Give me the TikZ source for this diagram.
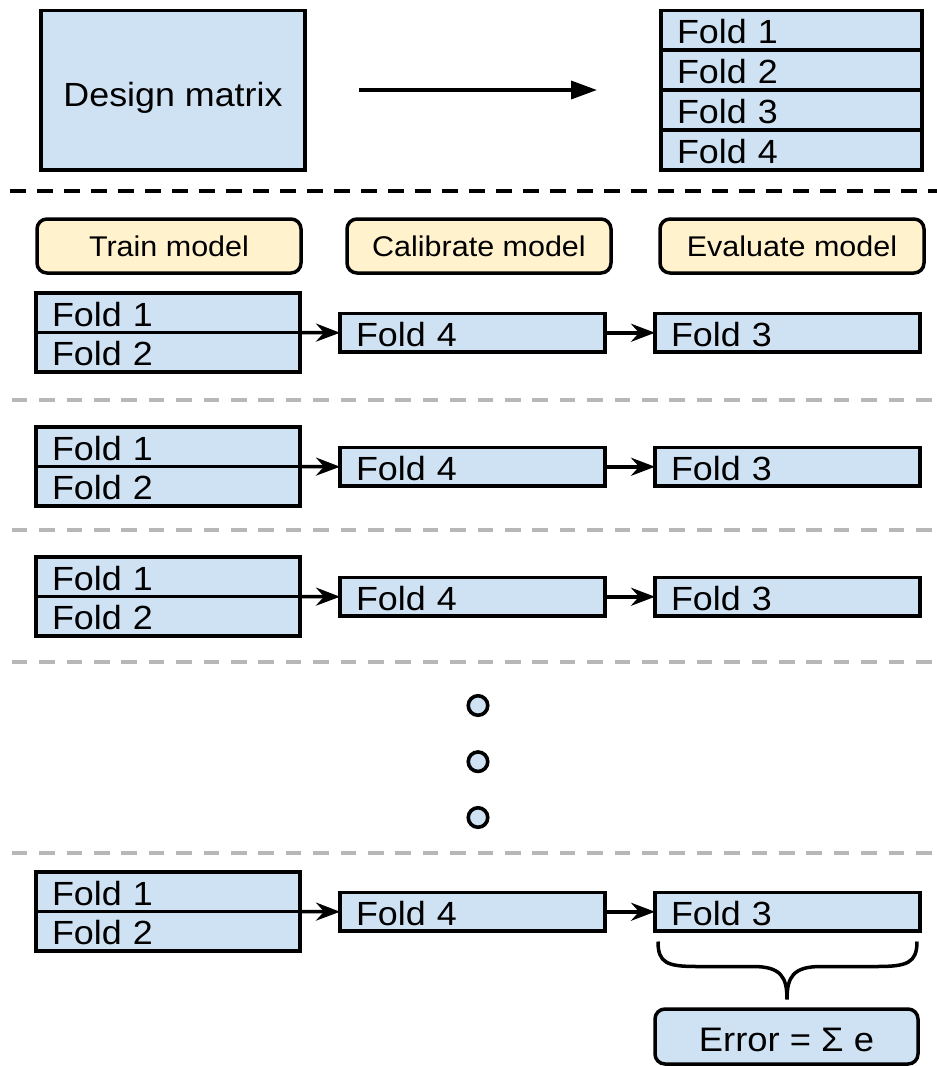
\documentclass[tikz,border=0pt]{standalone}
\usepackage{fontspec}
\setmainfont{Liberation Sans}[FakeStretch=1.07]
\usetikzlibrary{arrows.meta,calc}
\definecolor{boxblue}{HTML}{CFE2F3}
\definecolor{boxyellow}{HTML}{FFF2CC}
\definecolor{dashgray}{HTML}{B7B7B7}
\begin{document}
\begin{tikzpicture}[x=1pt,y=-1pt,
  every node/.style={outer sep=0pt},
  fold/.style={draw, fill=boxblue, line width=3.5pt, anchor=north west,
    minimum height=39.5pt, text width=#1, inner xsep=16pt, inner ysep=0pt,
    align=left, font=\fontsize{33.5}{39}\selectfont, text height=26.5pt, text depth=0pt},
  hdr/.style={draw, fill=boxyellow, rounded corners=10pt, line width=3.5pt,
    anchor=north west, minimum width=264pt, minimum height=54pt, inner sep=0pt,
    font=\fontsize{28.5}{34}\selectfont, text height=20.5pt, text depth=0pt},
  dmbox/.style={draw, fill=boxblue, line width=3.5pt, anchor=north west,
    minimum width=264pt, minimum height=159.5pt, inner sep=0pt,
    font=\fontsize{33.5}{39}\selectfont, text height=33.4pt, text depth=0pt},
  errbox/.style={draw, fill=boxblue, rounded corners=10pt, line width=3.5pt,
    anchor=north west, minimum width=263pt, minimum height=55pt, inner sep=0pt,
    font=\fontsize{34}{40}\selectfont, text height=30.4pt, text depth=0pt},
  dot/.style={draw, fill=boxblue, circle, line width=3.6pt, minimum size=19.5pt, inner sep=0pt},
  arr/.style={line width=3.5pt, -{Stealth[length=24pt,width=18pt,inset=8pt]}},
  bigarr/.style={line width=3.5pt, -{Triangle[length=26pt,width=18pt]}},
  blackdash/.style={line width=4pt, dash pattern=on 16pt off 11pt, dash phase=17pt},
  graydash/.style={draw=dashgray, line width=3.7pt, dash pattern=on 15.7pt off 11.7pt, dash phase=15.7pt},
  bracepath/.style={line width=3.5pt}
]
\useasboundingbox (0,0) rectangle (937,1066);

% top part
\node[dmbox] (dm) at (41,10.5) {Design matrix};
\node[fold=229pt] (t1) at (661,10.5) {Fold 1};
\node[fold=229pt, minimum height=40pt] (t2) at (t1.south west) {Fold 2};
\node[fold=229pt, minimum height=40pt] (t3) at (t2.south west) {Fold 3};
\node[fold=229pt, minimum height=40pt] (t4) at (t3.south west) {Fold 4};
\draw[bigarr, shorten <=54pt, shorten >=64pt] (dm.east |- t3.north) -- (t3.north west);

\draw[blackdash] (0,191) -- (937,191);

% headers
\node[hdr] (h1) at (37,219) {Train model};
\node[hdr] (h2) at (347,219) {Calibrate model};
\node[hdr] (h3) at (660,219) {Evaluate model};

% rows
\foreach \i/\y in {1/293, 2/427, 3/557, 4/872}{
  \node[fold=232pt] (a\i) at (36,\y) {Fold 1};
  \node[fold=232pt] (b\i) at (a\i.south west) {Fold 2};
  \node[fold=233pt, minimum height=38.5pt] (c\i) at (340,\y+20.5) {Fold 4};
  \node[fold=233pt, minimum height=38.5pt] (e\i) at (655,\y+20.5) {Fold 3};
  \draw[arr] (a\i.south east) -- (c\i.west);
  \draw[arr] (c\i.east) -- (e\i.west);
}

\draw[graydash] (0,400) -- (937,400);
\draw[graydash] (0,530) -- (937,530);
\draw[graydash] (0,662) -- (937,662);
\draw[graydash] (0,853) -- (937,853);

% dots
\node[dot] (d1) at (478,705.5) {};
\node[dot] (d2) at (478,761.7) {};
\node[dot] (d3) at (478,817.5) {};

% brace
\begin{scope}[shift={(e4.south west)}]
\draw[bracepath] (3,10.5) .. controls (3,32) and (12,35.5) .. (42,35.5) -- (98,35.5)
  .. controls (126,35.5) and (132,46) .. (132,68.5)
  .. controls (132,46) and (138,35.5) .. (166,35.5) -- (222,35.5)
  .. controls (252,35.5) and (262,32) .. (262,10.5);
\end{scope}

\node[errbox] (err) at (655,1009) {Error = Σ e};
\end{tikzpicture}
\end{document}
